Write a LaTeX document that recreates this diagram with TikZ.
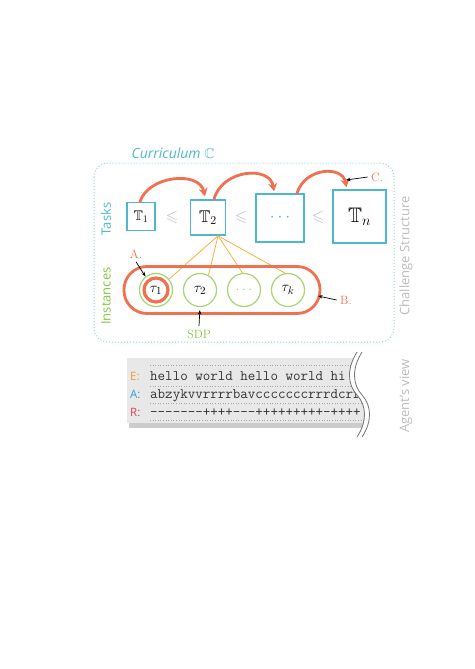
\documentclass[tikz,border=0pt]{standalone}
\usepackage{amssymb}
\usepackage{fontspec}
\setsansfont{Open Sans}
\usetikzlibrary{arrows.meta,calc}
\definecolor{cy}{HTML}{4DB6D0}
\definecolor{cyl}{HTML}{9AD3E3}
\definecolor{gr}{HTML}{86C440}
\definecolor{grl}{HTML}{A8D46F}
\definecolor{og}{HTML}{F5B142}
\definecolor{sk}{HTML}{F07050}
\definecolor{lg}{HTML}{BBBBBB}
\definecolor{eo}{HTML}{F09A30}
\definecolor{ab}{HTML}{3A9AD0}
\definecolor{rr}{HTML}{E0405A}
\begin{document}
\begin{tikzpicture}[x=1pt,y=-1pt,
 taskbox/.style={draw=cy, line width=1.5pt, minimum width=#1, minimum height=#1, inner sep=0pt},
 inst/.style={circle, draw=grl, line width=1.2pt, minimum size=33pt, inner sep=0pt, font=\fontsize{15}{15}\selectfont},
 sketch/.style={draw=sk, line width=2.8pt, line cap=round, line join=round},
 sketcharrow/.style={sketch, -{Stealth[length=8pt,width=9pt]}},
 annot/.style={draw=black, line width=0.7pt, -{Stealth[length=4.5pt,width=3.5pt]}},
 lbl/.style={text=sk, font=\fontsize{12}{12}\selectfont},
 side/.style={font=\sffamily\fontsize{13}{13}\selectfont, rotate=90},
 leq/.style={text=lg, font=\fontsize{16}{16}\selectfont},
 fanline/.style={draw=og, line width=0.8pt},
 rowtext/.style={anchor=base west, inner sep=0pt, text=black!80, font=\ttfamily\fontsize{14.6}{14}\selectfont},
 rowlbl/.style={anchor=base west, inner sep=0pt, font=\sffamily\fontsize{11.5}{11}\selectfont},
 ]
\path[use as bounding box] (0,0) rectangle (474,669);

% frame
\draw[cyl, dotted, line width=1pt, rounded corners=14pt] (94,163) rectangle (394,342);
\node[text=cy, font=\sffamily\itshape\fontsize{14}{14}\selectfont] (cur) at (173,153) {Curriculum $\mathbb{C}$};

% side labels
\node[side, text=cy] (tasks) at (106,219) {Tasks};
\node[side, text=gr] (insts) at (106,296) {Instances};
\node[side, text=lg] (chs) at (406,256) {Challenge Structure};
\node[side, text=lg] (av) at (406,396) {Agent's view};

% tasks
\node[taskbox=28pt] (t1) at (141,216.5) {\fontsize{14}{14}\selectfont$\mathbb{T}_1$};
\node[taskbox=35pt] (t2) at (208,217.5) {\fontsize{17}{17}\selectfont$\mathbb{T}_2$};
\node[taskbox=48pt, text=cy] (t3) at (280,218) {\fontsize{18}{18}\selectfont$\cdots$};
\node[taskbox=53pt] (tn) at (359.5,216.5) {\fontsize{21}{21}\selectfont$\mathbb{T}_n$};
\node[leq] (le1) at (172,217) {$\leqslant$};
\node[leq] (le2) at (241,217) {$\leqslant$};
\node[leq] (le3) at (318,217) {$\leqslant$};

% curriculum arcs
\draw[sketcharrow] ([xshift=-1pt]t1.north) .. controls +(8,-26) and +(-6,-26) .. ([xshift=-3pt,yshift=3pt]t2.north);
\draw[sketcharrow] ([xshift=6pt]t2.north) .. controls +(8,-30) and +(-4,-26) .. ([xshift=-6pt,yshift=2pt]t3.north);
\draw[sketcharrow] ([xshift=17pt]t3.north) .. controls +(8,-26) and +(-4,-22) .. ([xshift=-13pt,yshift=2pt]tn.north);

% instances
\coordinate (fan) at ([xshift=10pt]t2.south);
\node[inst] (i1) at (156,290) {$\tau_1$};
\node[inst] (i2) at (200,290) {$\tau_2$};
\node[inst, text=grl] (i3) at (244,290) {$\cdots$};
\node[inst] (ik) at (288,290) {$\tau_k$};
\draw[fanline] (fan) -- (i1.40);
\draw[fanline] (fan) -- (i2.60);
\draw[fanline] (fan) -- (i3.95);
\draw[fanline] (fan) -- (ik.100);
\draw[sketch, line width=3.2pt] (i1.center) circle (12pt);
\node[sketch, rounded corners=23pt, minimum width=196pt, minimum height=47pt, inner sep=0pt] (grp) at (222,290) {};

% annotations
\node[lbl] (la) at (136,254) {A.};
\draw[annot] (la.south) -- (i1.128);
\node[lbl] (lb) at (346,300) {B.};
\coordinate (bpt) at (318,296);
\draw[annot] (lb.west) -- (bpt);
\node[lbl] (lc) at (377,177) {C.};
\coordinate (cpt) at (346,180);
\draw[annot] (lc.west) -- (cpt);
\node[text=gr, font=\fontsize{12}{12}\selectfont] (sdp) at (199,334) {SDP};
\draw[annot, shorten >=3pt] (sdp.north) -- (i2.south);

% agent's view
\begin{scope}
\clip (120,345) -- (357,352) .. controls (347,368) and (347,384) .. (357,395) .. controls (367,406) and (367,422) .. (357,437) -- (120,437) -- cycle;
\fill[black!20] (129,363) rectangle (400,428);
\fill[black!9] (127,358) rectangle (400,423);
\draw[black!35, dotted, line width=0.6pt] (150,365) -- (400,365);
\draw[black!35, dotted, line width=0.6pt] (150,386) -- (400,386);
\draw[black!35, dotted, line width=0.6pt] (150,403) -- (400,403);
\draw[black!35, dotted, line width=0.6pt] (150,420) -- (400,420);
\node[rowlbl, text=eo] (el) at (130,380) {E:};
\node[rowlbl, text=ab] (al) at (130,398) {A:};
\node[rowlbl, text=rr] (rl) at (130,416) {R:};
\node[rowtext] (et) at (150,380) {hello world hello world hi};
\node[rowtext] (at) at (150,398) {abzykvvrrrrbavcccccccrrrdcrr};
\node[rowtext] (rt) at (150,416) {-------++++---+++++++++-++++};
\end{scope}
\draw[black!55, line width=0.8pt] (357,352) .. controls (347,368) and (347,384) .. (357,395) .. controls (367,406) and (367,422) .. (357,437);
\draw[black!55, line width=0.8pt] (362,352) .. controls (352,368) and (352,384) .. (362,395) .. controls (372,406) and (372,422) .. (362,437);
\end{tikzpicture}
\end{document}
